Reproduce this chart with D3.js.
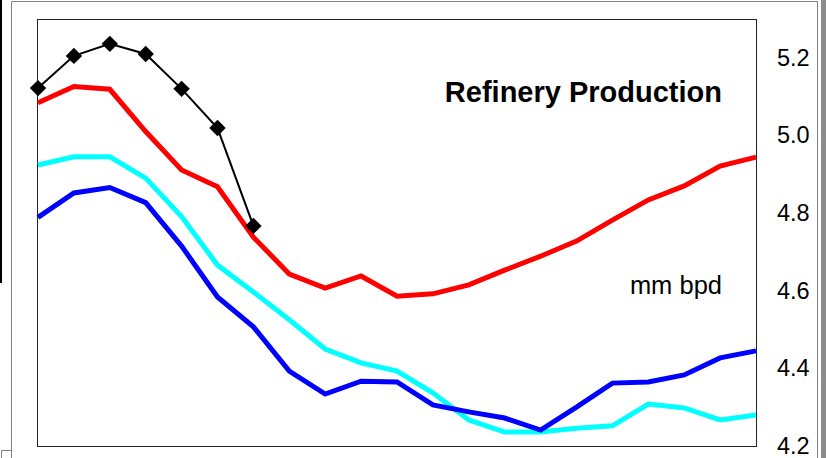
<!DOCTYPE html>
<html>
<head>
<meta charset="utf-8">
<script src="https://cdn.jsdelivr.net/npm/d3@7"></script>
<style>
  body { margin: 0; background: #fff; }
  svg { display: block; font-family: "Liberation Sans", Arial, sans-serif; }
</style>
</head>
<body>
<div id="chart"></div>
<script>
// data (21 periods, mm bpd)
const periods = d3.range(21);
const redSeries = [5.084, 5.126, 5.119, 5.010, 4.911, 4.868, 4.738, 4.643, 4.607, 4.638, 4.586,
                   4.592, 4.615, 4.653, 4.689, 4.728, 4.782, 4.834, 4.870, 4.921, 4.944];
const cyanSeries = [4.924, 4.945, 4.945, 4.890, 4.791, 4.666, 4.597, 4.525, 4.450, 4.414, 4.393,
                    4.337, 4.267, 4.236, 4.236, 4.246, 4.252, 4.308, 4.298, 4.267, 4.280];
const blueSeries = [4.789, 4.852, 4.866, 4.827, 4.715, 4.584, 4.507, 4.393, 4.334, 4.367, 4.365,
                    4.306, 4.288, 4.272, 4.241, 4.300, 4.362, 4.365, 4.383, 4.427, 4.445];
const blackSeries = [5.122, 5.205, 5.236, 5.210, 5.120, 5.019, 4.767];
const yTicks = [4.2, 4.4, 4.6, 4.8, 5.0, 5.2, 5.4];

const W = 826, H = 458;
const plot = { left: 37, top: 19, right: 756, bottom: 446 };

const svg = d3.select("#chart").append("svg")
  .attr("width", W)
  .attr("height", H);

// outer frame pieces (the picture is a crop of a bigger sheet)
const frame = svg.append("g").attr("fill", "none").attr("stroke", "#808080").attr("stroke-width", 1);
frame.append("path").attr("d", "M11.5,458 V1.5 H817.5 V458");
frame.append("path").attr("d", "M1.5,458 V450.5 H11.5");
svg.append("rect").attr("x", 0).attr("y", 0).attr("width", 2).attr("height", 283).attr("fill", "#000");
svg.append("rect").attr("x", 821).attr("y", 0).attr("width", 5).attr("height", H).attr("fill", "#8c8c8c");

// scales
const x = d3.scaleLinear().domain([0, 20]).range([plot.left + 1, plot.right]);
const y = d3.scaleLinear().domain([4.2, 5.3]).range([plot.bottom, plot.top]);

// plot area
svg.append("rect")
  .attr("x", plot.left + 0.5)
  .attr("y", plot.top + 0.5)
  .attr("width", plot.right - plot.left)
  .attr("height", plot.bottom - plot.top)
  .attr("fill", "#fff")
  .attr("stroke", "#222")
  .attr("stroke-width", 1);

// right axis labels, no line
const yAxis = d3.axisRight(y).tickValues(yTicks).tickFormat(d3.format(".1f")).tickSize(0).tickPadding(0);
const ax = svg.append("g")
  .attr("transform", `translate(${plot.right + 21}, 0)`)
  .call(yAxis);
ax.select(".domain").remove();
ax.selectAll("text")
  .attr("font-family", "'Liberation Sans', Arial, sans-serif")
  .attr("font-size", 23.5)
  .attr("fill", "#000");

const line = d3.line()
  .x((d, i) => x(periods[i]))
  .y(d => y(d));

const series = [
  { values: redSeries, color: "#ff0000", width: 5 },
  { values: cyanSeries, color: "#00ffff", width: 5 },
  { values: blueSeries, color: "#0000ff", width: 5 },
  { values: blackSeries, color: "#000000", width: 2 }
];

svg.selectAll(".series")
  .data(series)
  .enter()
  .append("path")
  .attr("class", "series")
  .attr("fill", "none")
  .attr("stroke", d => d.color)
  .attr("stroke-width", d => d.width)
  .attr("d", d => line(d.values));

// diamond markers on the black series
svg.selectAll(".dot")
  .data(blackSeries)
  .enter()
  .append("path")
  .attr("class", "dot")
  .attr("d", d3.symbol(d3.symbolSquare, 135))
  .attr("transform", (d, i) => `translate(${x(periods[i])}, ${y(d)}) rotate(45)`)
  .attr("fill", "#000");

// labels
svg.append("text")
  .attr("x", 722)
  .attr("y", 102)
  .attr("text-anchor", "end")
  .attr("font-weight", "bold")
  .attr("font-size", 29)
  .text("Refinery Production");

svg.append("text")
  .attr("x", 722)
  .attr("y", 294)
  .attr("text-anchor", "end")
  .attr("font-size", 25.5)
  .text("mm bpd");
</script>
</body>
</html>
